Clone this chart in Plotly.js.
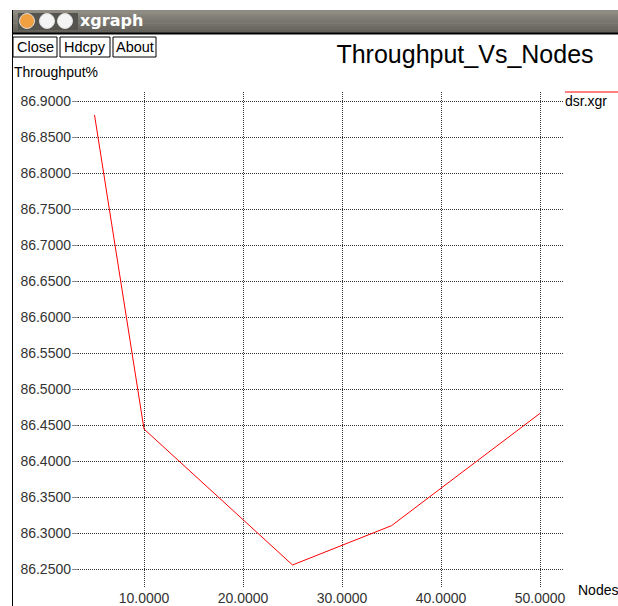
<!DOCTYPE html>
<html>
<head>
<meta charset="utf-8">
<script src="https://cdn.plot.ly/plotly-3.0.1.min.js"></script>
<style>html,body{margin:0;padding:0;background:#fff;}#chart{width:618px;height:606px;}</style>
</head>
<body>
<div id="chart"></div>
<script>
// Data
const nodes = [5, 10, 25, 35, 50];
const throughput = [86.8806, 86.4444, 86.2556, 86.3102, 86.4662];
const seriesName = "dsr.xgr";
const xTickVals = [10, 20, 30, 40, 50];
const xTickText = ["10.0000", "20.0000", "30.0000", "40.0000", "50.0000"];
const yTickVals = [86.25, 86.30, 86.35, 86.40, 86.45, 86.50, 86.55, 86.60, 86.65, 86.70, 86.75, 86.80, 86.85, 86.90];
const yTickText = yTickVals.map(v => v.toFixed(4));

// layout geometry (pixels)
const W = 618, H = 606;
const L = 72, R = 55, T = 92, B = 19;
const pw = W - L - R, ph = H - T - B;
const px = x => (x - L) / pw;
const py = y => (H - B - y) / ph;

const FONT = "Liberation Sans, Arial, sans-serif";
const shapes = [];
const annotations = [];

// title bar gradient
const barTop = 10, barBot = 33;
const grads = ["#8e8b83", "#87847c", "#807d76", "#79766f", "#727068", "#6b6962", "#65625b"];
const step = (barBot - barTop) / grads.length;
grads.forEach((c, i) => {
  shapes.push({type: "rect", xref: "paper", yref: "paper", layer: "above",
    x0: px(12), x1: px(640), y0: py(barTop + i * step), y1: py(barTop + (i + 1) * step + 0.5),
    fillcolor: c, line: {width: 0}});
});
shapes.push({type: "line", xref: "paper", yref: "paper", x0: px(12), x1: px(640), y0: py(33.5), y1: py(33.5), line: {color: "#000", width: 2}});
// window left border
shapes.push({type: "line", xref: "paper", yref: "paper", x0: px(12.5), x1: px(12.5), y0: py(10), y1: py(610), line: {color: "#000", width: 1}});
// circle buttons pill
shapes.push({type: "rect", xref: "paper", yref: "paper", x0: px(18), x1: px(78), y0: py(13), y1: py(30), fillcolor: "#55534e", line: {width: 0}});
const circ = [[27, "#f0a040"], [47, "#f4f4f4"], [65, "#f4f4f4"]];
circ.forEach(([cx, col]) => {
  shapes.push({type: "circle", xref: "paper", yref: "paper", x0: px(cx - 7.5), x1: px(cx + 7.5), y0: py(13.5), y1: py(28.5), fillcolor: col, line: {color: "#ddd", width: 1}});
});
annotations.push({xref: "paper", yref: "paper", x: px(78), y: py(21), xanchor: "left", yanchor: "middle", showarrow: false,
  text: "<b>xgraph</b>", font: {family: "DejaVu Sans, sans-serif", size: 16, color: "#ffffff"}});

// buttons
const buttons = [["Close", 13, 57], ["Hdcpy", 60, 110], ["About", 113, 156]];
buttons.forEach(([t, a, b]) => {
  shapes.push({type: "rect", xref: "paper", yref: "paper", x0: px(a), x1: px(b), y0: py(37), y1: py(57), fillcolor: "#fff", line: {color: "#000", width: 1}});
  annotations.push({xref: "paper", yref: "paper", x: px((a + b) / 2), y: py(47), xanchor: "center", yanchor: "middle", showarrow: false,
    text: t, font: {family: FONT, size: 14.5, color: "#000"}});
});

// axis labels
annotations.push({xref: "paper", yref: "paper", x: px(12), y: py(72), xanchor: "left", yanchor: "middle", showarrow: false,
  text: "Throughput%", font: {family: FONT, size: 14, color: "#000"}});
annotations.push({xref: "paper", yref: "paper", x: px(576), y: py(590), xanchor: "left", yanchor: "middle", showarrow: false,
  text: "Nodes", font: {family: FONT, size: 14, color: "#000"}});
// legend
shapes.push({type: "line", xref: "paper", yref: "paper", x0: px(565), x1: px(640), y0: py(92), y1: py(92), line: {color: "#ff0000", width: 1}});
annotations.push({xref: "paper", yref: "paper", x: px(563), y: py(101), xanchor: "left", yanchor: "middle", showarrow: false,
  text: seriesName, font: {family: FONT, size: 14, color: "#000"}});

const trace = {
  x: nodes, y: throughput, type: "scatter", mode: "lines", name: seriesName,
  line: {color: "#ff0000", width: 1}, hoverinfo: "none"
};

const layout = {
  width: W, height: H,
  margin: {l: L, r: R, t: T, b: B, pad: 0},
  paper_bgcolor: "#fff", plot_bgcolor: "#fff",
  showlegend: false,
  title: {text: "Throughput_Vs_Nodes", x: px(465), xanchor: "center", xref: "paper",
    y: 1 - 54 / H, yanchor: "middle", font: {family: FONT, size: 25, color: "#000"}},
  xaxis: {range: [2.727, 52.32], tickvals: xTickVals, ticktext: xTickText, showgrid: true,
    gridcolor: "#333", griddash: "1px,1px", gridwidth: 1, zeroline: false, showline: false,
    ticks: "", ticklabelstandoff: 1, tickfont: {family: FONT, size: 14, color: "#333"}, fixedrange: true},
  yaxis: {range: [86.225, 86.9125], tickvals: yTickVals, ticktext: yTickText, showgrid: true,
    gridcolor: "#333", griddash: "1px,1px", gridwidth: 1, zeroline: false, showline: false,
    ticks: "inside", ticklen: 6, tickcolor: "#888", tickfont: {family: FONT, size: 14, color: "#333"}, fixedrange: true},
  shapes: shapes,
  annotations: annotations
};

Plotly.newPlot("chart", [trace], layout, {staticPlot: true, displayModeBar: false});
</script>
</body>
</html>
